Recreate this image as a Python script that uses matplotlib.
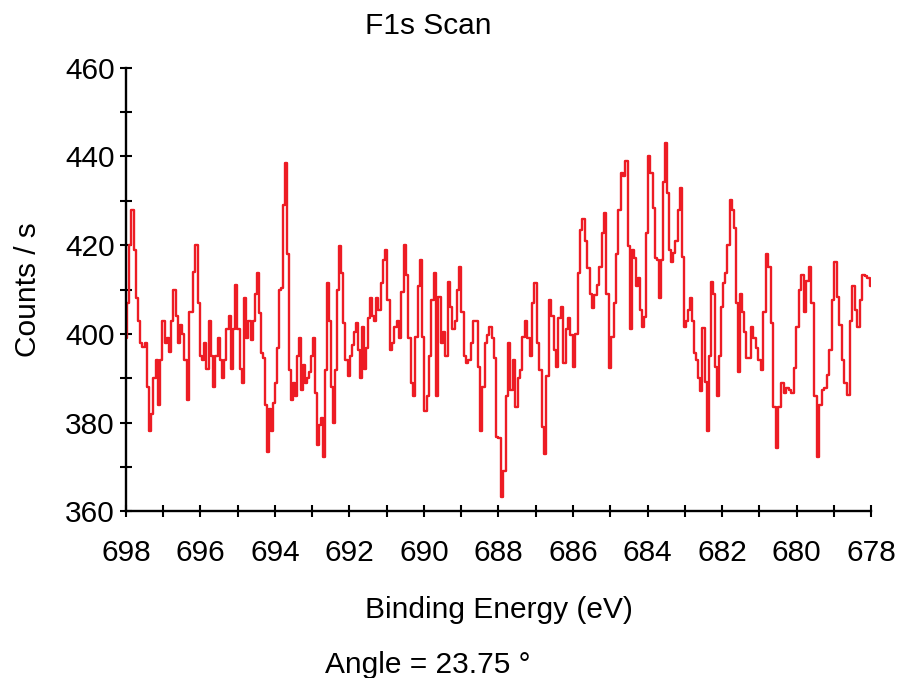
import matplotlib
matplotlib.use("Agg")
import matplotlib.pyplot as plt
from matplotlib.ticker import MultipleLocator
import numpy as np

plt.rcParams['font.family'] = ['Liberation Sans', 'DejaVu Sans']

# Counts, in six consecutive stretches of binding energy
seg_edges = [698.0, 694.68, 691.32, 687.97, 684.62, 681.27, 678.0]

counts_1 = [399, 407, 420, 428, 419, 408, 403, 398, 397, 398, 388, 378, 382, 390,
            394, 384, 394, 403, 398, 399, 396, 403, 410, 404, 398, 402, 400, 394,
            385, 405, 405, 414, 420, 407, 395, 394, 398, 392, 403, 395, 388, 395,
            399, 394, 390, 394, 401, 404, 392, 401, 411, 401, 392, 389, 408, 399]
counts_2 = [403, 398.6, 403, 409, 413.7, 404.6, 395.6, 394.5, 384, 373.4, 383, 378,
            384.3, 389, 396.8, 410, 410.3, 429, 438.5, 418, 391.9, 385, 389, 386,
            394.9, 399, 387.4, 393, 389, 390, 391.5, 395, 399, 386.6, 375, 379.5,
            381, 372.3, 391.9, 411.4, 403, 388, 379.8, 391.9, 410, 419.7, 413.7,
            402.4, 394, 390.4, 394.9, 397.5, 400.5, 402.4, 396.4, 390, 401.6, 392,
            396.8, 403.5, 408, 404]
counts_3 = [403, 408, 405.4, 411.4, 416.7, 419, 407.7, 396.4, 397.9, 401.6, 403, 399,
            409.5, 420, 413.3, 399, 389, 385.9, 399.4, 410.7, 416.7, 399.4, 382.5,
            385.9, 394.9, 407.7, 413.7, 385.9, 408.4, 397.9, 400.5, 395, 411.8, 406,
            401, 403, 410, 415, 405, 394.9, 393.4, 394, 397.9, 402.8, 403, 392.6,
            378, 388, 397.9, 399.8, 401.6, 399, 394.5, 376.8]
counts_4 = [376.5, 363.3, 369, 385.9, 398, 387.4, 394, 383.6, 390, 391.9, 399.4,
            402.8, 399, 394.9, 406.9, 411.4, 397.9, 391.9, 379, 373, 390.4, 407.7,
            404, 396.4, 392.6, 403.5, 406, 393.4, 401, 403.5, 399.8, 392.6, 400,
            413.7, 423.4, 426, 421, 414.8, 409, 405.8, 408.8, 411, 415, 422.7, 427.2,
            409, 392.2, 399.4, 406.9, 418, 428, 436.2]
counts_5 = [435.5, 439, 419.7, 401, 419, 417, 410.7, 412.5, 405.4, 401.6, 403.9,
            422.7, 440, 436.2, 428.3, 417, 416.7, 408, 416.7, 434.3, 443, 431.7, 419,
            416.3, 418.2, 421, 428, 432.8, 417.4, 401.6, 403, 405.4, 408, 403, 395.6,
            394, 390, 387, 401.3, 389.2, 378, 394.9, 411.8, 409, 392.6, 385.9, 394.9,
            406, 411.4, 413.7, 420, 430.2, 428, 423.8, 406.9, 391.5, 409, 405, 400.5,
            394.5]
counts_6 = [394.5, 401.6, 399, 396.8, 394, 391.9, 405, 418, 415, 402.4, 383.6, 374.2,
            383.6, 389, 386.6, 387.7, 387.4, 386.6, 392.2, 401.6, 409.9, 413.3, 405,
            412, 415, 406.9, 385.9, 372.3, 384, 387.4, 387.7, 390.8, 396.4, 407.7,
            416.3, 408.4, 402, 394, 389, 386.2, 403, 410.7, 405.4, 401.6, 407.7,
            413.3, 413, 412.5, 410.7]

segments = [counts_1, counts_2, counts_3, counts_4, counts_5, counts_6]

energy = []
counts = []
for i, seg in enumerate(segments):
    last = i == len(segments) - 1
    energy.extend(np.linspace(seg_edges[i], seg_edges[i + 1], len(seg), endpoint=last))
    counts.extend(seg)

fs = 21.5

fig = plt.figure(figsize=(8.99, 6.78), dpi=100)
ax = fig.add_axes([0.140, 0.246, 0.829, 0.654])

ax.plot(energy, counts, color="#ED1C24", lw=1.7, drawstyle="steps-mid")

ax.set_xlim(698, 678)
ax.set_ylim(360, 460)
ax.xaxis.set_major_locator(MultipleLocator(2))
ax.xaxis.set_minor_locator(MultipleLocator(1))
ax.yaxis.set_major_locator(MultipleLocator(20))
ax.yaxis.set_minor_locator(MultipleLocator(10))

for s in ["top", "right"]:
    ax.spines[s].set_visible(False)
for s in ["left", "bottom"]:
    ax.spines[s].set_linewidth(1.7)

ax.tick_params(which="both", direction="inout", length=8.6, width=1.5, labelsize=fs)
ax.tick_params(axis="x", which="both", pad=15.8)
ax.tick_params(axis="y", which="both", pad=3.6)

ax.set_xlabel("Binding Energy (eV)", fontsize=fs, va="center")
ax.xaxis.set_label_coords(0.5, -0.2235)
ax.set_ylabel("Counts / s", fontsize=fs, va="center")
ax.yaxis.set_label_coords(-0.1315, 0.5)

fig.text(0.476, 0.9617, "F1s Scan", fontsize=fs, ha="center", va="center")
fig.text(0.476, 0.0192, "Angle = 23.75 °", fontsize=fs, ha="center", va="center")

fig.savefig("out.png", dpi=100)
